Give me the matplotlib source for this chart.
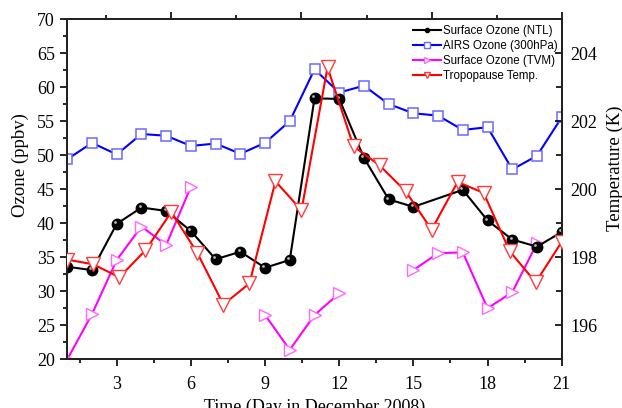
import numpy as np
import matplotlib
matplotlib.use('Agg')
import matplotlib.pyplot as plt
from matplotlib.ticker import MultipleLocator
from matplotlib.lines import Line2D
from matplotlib import transforms

# data
day = np.arange(1, 22)
ntl_day = [1, 2, 3, 4, 5, 6, 7, 8, 9, 10, 11, 12, 13, 14, 15, 17, 18, 19, 20, 21]
ntl = [33.6, 33.1, 39.9, 42.3, 41.8, 38.85, 34.7, 35.8, 33.45, 34.6, 58.35, 58.25,
       49.6, 43.5, 42.4, 44.9, 40.4, 37.6, 36.55, 38.7]
airs = [49.4, 51.8, 50.1, 53.1, 52.85, 51.35, 51.7, 50.2, 51.8, 55.0, 62.6, 59.2,
        60.2, 57.5, 56.15, 55.8, 53.7, 54.1, 47.9, 49.9, 55.55]
tvm = [20.0, 26.65, 34.6, 39.5, 36.8, 45.35, np.nan, np.nan, 26.5, 21.4, 26.5, 29.7,
       np.nan, np.nan, 33.1, 35.6, 35.7, 27.5, 29.85, 37.05, np.nan]
# tropopause temperature, 20 values on its own (top) axis 1..20
tp_idx = np.arange(1, 21)
tp = [197.93, 197.79, 197.41, 198.20, 199.33, 198.12, 196.61, 197.23, 200.23, 199.38,
      203.58, 201.26, 200.70, 199.94, 198.81, 200.21, 199.89, 198.18, 197.26, 198.45]

serif = 'Liberation Serif'
sans = 'Liberation Sans'

fig = plt.figure(figsize=(6.22, 4.08), dpi=100)
ax = fig.add_axes([67.3/622, 1-359.3/408, (561.7-67.3)/622, (359.3-19)/408])

ax.plot(ntl_day, ntl, color='black', lw=1.5, marker='o', ms=7.5, mfc='black', mec='black', zorder=3)
# little shine on the balls
hl = transforms.offset_copy(ax.transData, fig=fig, x=-1.6, y=1.8, units='dots')
ax.plot(ntl_day, ntl, ls='none', marker='o', ms=2.0, mfc='#b8b8b8', mec='none', transform=hl, zorder=4)
ax.plot(day, airs, color='#0000ff', lw=1.5, marker='s', ms=7, mfc='white', mec='#6a6aff', mew=1.1, zorder=2)
ax.plot(day, tvm, color='#ff00ff', lw=1.5, marker='>', ms=9, mfc='white', mec='#ff66ff', mew=1.0, zorder=2)

ax.set_xlim(1, 21)
ax.set_ylim(20, 70)
ax.xaxis.set_major_locator(MultipleLocator(3))
ax.xaxis.set_minor_locator(MultipleLocator(1.5))
ax.yaxis.set_major_locator(MultipleLocator(5))
ax.yaxis.set_minor_locator(MultipleLocator(2.5))
ax.tick_params(which='both', direction='out', width=1.2, top=False, right=False)
ax.tick_params(which='major', length=5)
ax.tick_params(which='minor', length=3)
ax.tick_params(axis='x', pad=7)
ax.tick_params(axis='y', pad=4)
for lab in ax.get_xticklabels() + ax.get_yticklabels():
    lab.set_fontfamily(serif)
    lab.set_fontsize(13)
ax.set_ylabel('Ozone (ppbv)', fontfamily=serif, fontsize=13.5)
ax.yaxis.set_label_coords(-0.078, 0.571)
ax.set_xlabel('Time (Day in December 2008)', fontfamily=serif, fontsize=13, va='top')
ax.xaxis.set_label_coords(0.5, -0.116)

ax2 = ax.twinx()
ax2.set_ylim(195, 205)
ax2.yaxis.set_major_locator(MultipleLocator(2))
ax2.yaxis.set_minor_locator(MultipleLocator(1))
ax2.tick_params(which='both', direction='in', width=1.2, pad=6)
ax2.tick_params(which='major', length=5)
ax2.tick_params(which='minor', length=4)
for lab in ax2.get_yticklabels():
    lab.set_fontfamily(serif)
    lab.set_fontsize(13)
ax2.set_ylabel('Temperature (K)', fontfamily=serif, fontsize=13.5)
ax2.yaxis.set_label_coords(1.09, 0.562)

ax3 = ax2.twiny()
ax3.set_xlim(1, 20)
ax3.xaxis.set_major_locator(MultipleLocator(5))
ax3.xaxis.set_minor_locator(MultipleLocator(2.5))
ax3.tick_params(which='both', direction='out', width=1.2, labeltop=False)
ax3.tick_params(which='major', length=5)
ax3.tick_params(which='minor', length=3)
ax3.plot(tp_idx, tp, color='#ff0000', lw=1.5, marker='v', ms=9.5, mfc='white', mec='#ff3c3c', mew=1.0, zorder=3)

for a in (ax, ax2, ax3):
    for s in a.spines.values():
        s.set_linewidth(1.2)
        s.set_color('#222222')

handles = [
    Line2D([], [], color='black', lw=1.5, marker='o', ms=3, mfc='black', mec='black'),
    Line2D([], [], color='#0000ff', lw=1.5, marker='s', ms=4, mfc='white', mec='#6a6aff'),
    Line2D([], [], color='#ff00ff', lw=1.5, marker='>', ms=5, mfc='white', mec='#ff66ff'),
    Line2D([], [], color='#ff0000', lw=1.5, marker='v', ms=5, mfc='white', mec='#ff3c3c'),
]
labels = ['Surface Ozone (NTL)', 'AIRS Ozone (300hPa)', 'Surface Ozone (TVM)', 'Tropopause Temp.']
leg = ax3.legend(handles, labels, loc='upper left', bbox_to_anchor=(0.700, 0.981),
                 frameon=False, prop={'family': sans, 'size': 8.3}, handlelength=2.4,
                 handletextpad=0.2, labelspacing=0.25, borderaxespad=0.0, borderpad=0.0)

fig.savefig('out.png', dpi=100)
